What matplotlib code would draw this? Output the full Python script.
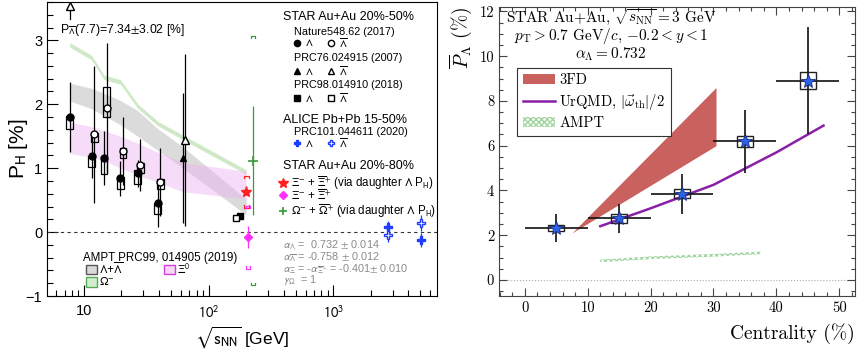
import matplotlib
matplotlib.use("Agg")
import matplotlib.pyplot as plt
import matplotlib.patches as mpatches
import matplotlib.ticker as ticker
from matplotlib.lines import Line2D
import numpy as np

plt.rcParams['font.family'] = ['Liberation Sans', 'DejaVu Sans']
plt.rcParams['mathtext.fontset'] = 'stixsans'

# ---------------- left panel data: P_H vs sqrt(s_NN) ----------------
# STAR Au+Au 20-50%, Nature548.62 (2017)
nat_e = [7.7, 11.5, 14.5, 19.6, 27., 39.]
nat_lam = [1.80, 1.19, 1.16, 0.84, 0.92, 0.45]
nat_lam_err = [0.55, 0.35, 0.42, 0.27, 0.21, 0.37]
nat_lam_sys_lo = [1.62, 1.02, 0.91, 0.67, 0.75, 0.28]
nat_lam_sys_hi = [1.82, 1.19, 1.16, 0.86, 0.97, 0.45]
nat_alam_e = [11.5, 14.5, 19.6, 27., 39.]
nat_alam = [1.53, 1.94, 1.27, 1.05, 0.78]
nat_alam_err = [1.07, 1.02, 0.53, 0.40, 0.53]
nat_alam_sys_lo = [1.41, 1.80, 1.16, 0.92, 0.67]
nat_alam_sys_hi = [1.55, 2.27, 1.31, 1.08, 0.83]
alam_77_text = r'P$_{\overline{\Lambda}}$(7.7)=7.34$\pm$3.02 [%]'

# PRC76.024915 (2007)
prc76_e = [62.4]
prc76_lam = [1.16]
prc76_lam_err = [1.02]
prc76_alam = [1.44]
prc76_alam_err = [1.35]

# PRC98.014910 (2018)
prc98_e = [200.]
prc98_lam = [0.25]
prc98_alam = [0.22]

# ALICE Pb+Pb 15-50%, PRC101.044611 (2020)
alice_e = [2760., 5020.]
alice_lam = [0.08, -0.13]
alice_lam_err = [0.10, 0.11]
alice_alam = [-0.05, 0.14]
alice_alam_err = [0.10, 0.12]

# STAR Au+Au 20-80% hyperons
xid_e, xid_val, xid_err, xid_sys = 200., 0.63, 0.05, 0.25
xi_e, xi_val, xi_err, xi_sys = 207., -0.08, 0.17, 0.49
om_e, om_val, om_err, om_sys = 227., 1.12, 0.86, 1.95

# AMPT PRC99, 014905 (2019)
ampt_e = [7.7, 11.5, 14.5, 19.6, 27., 39., 62.4, 200.]
ampt_lam_lo = [2.05, 1.93, 1.82, 1.68, 1.50, 1.28, 1.00, 0.27]
ampt_lam_hi = [2.33, 2.25, 2.17, 2.06, 1.90, 1.62, 1.33, 0.52]
ampt_xi0_lo = [1.23, 1.17, 1.12, 1.00, 0.89, 0.78, 0.63, 0.52]
ampt_xi0_hi = [1.72, 1.65, 1.59, 1.50, 1.39, 1.25, 1.09, 0.95]
ampt_om = [2.93, 2.73, 2.42, 2.35, 1.97, 1.70, 1.48, 0.94]

x_ticks = [10, 100, 1000]
x_ticklabels = ['10', '$10^{2}$', '$10^{3}$']

# ---------------- right panel data: 3 GeV vs centrality ----------------
cent = [5, 15, 25, 35, 45]
pbar = [2.32, 2.75, 3.85, 6.2, 8.9]
pbar_stat = [0.62, 0.65, 0.9, 1.4, 2.4]
pbar_sys = [0.15, 0.2, 0.2, 0.25, 0.38]
cent_halfwidth = 5

fd3_x = [7.5, 30.4]
fd3_lo = [2.1, 6.0]
fd3_hi = [2.1, 8.6]

urqmd_x = [12, 20, 30, 40, 47.5]
urqmd_y = [2.4, 3.2, 4.25, 5.7, 6.9]

amptr_x = [12, 20, 30, 37.6]
amptr_y = [0.85, 0.99, 1.1, 1.21]


fig = plt.figure(figsize=(8.57, 3.51), dpi=100)
ax1 = fig.add_axes([47/857, 55/351, 390/857, 294/351])
ax2 = fig.add_axes([499/857, 55/351, 356/857, 289/351])

# ======== left ========
ax1.set_xscale('log')
ax1.set_xlim(5.05, 6800)
ax1.set_ylim(-1, 3.6)

e = np.array(ampt_e)
ax1.fill_between(e, np.array(ampt_om) - 0.035, np.array(ampt_om) + 0.035,
                 color='#cfe9c8', lw=0, zorder=1)
ax1.fill_between(e, ampt_lam_lo, ampt_lam_hi, color='#c4c4c4', alpha=0.6, lw=0, zorder=1)
ax1.fill_between(e, ampt_xi0_lo, ampt_xi0_hi, color='#eeb2f2', alpha=0.45, lw=0, zorder=1)

ax1.axhline(0, color='#333333', ls=(0, (3, 3)), lw=0.8, zorder=2)

def sysbox(ax, x, lo, hi, f=1.065, col='black'):
    ax.add_patch(mpatches.Rectangle((x / f, lo), x * f - x / f, hi - lo, fill=False,
                                    ec=col, lw=0.9, zorder=3))

def bracket(ax, x, val, s, col, f=1.045, h=0.04):
    for yy, sg in ((val + s, -1), (val - s, 1)):
        ax.plot([x / f, x / f, x * f, x * f], [yy + sg * h, yy, yy, yy + sg * h],
                color=col, lw=0.9, zorder=4)

shift = 1.05
ne = np.array(nat_e)
ax1.errorbar(ne, nat_lam, yerr=nat_lam_err, fmt='o', color='black', ms=5, elinewidth=0.9,
             capsize=0, zorder=5)
for x, lo, hi in zip(ne, nat_lam_sys_lo, nat_lam_sys_hi):
    sysbox(ax1, x, lo, hi)
nae = np.array(nat_alam_e) * shift
ax1.errorbar(nae, nat_alam, yerr=nat_alam_err, fmt='o', mfc='white', mec='black', ecolor='black',
             ms=5, elinewidth=0.9, capsize=0, zorder=5)
for x, lo, hi in zip(nae, nat_alam_sys_lo, nat_alam_sys_hi):
    sysbox(ax1, x, lo, hi)

# off-scale anti-Lambda at 7.7 GeV
ax1.plot([7.7, 7.7], [3.33, 3.49], color='black', lw=0.9, zorder=5)
ax1.plot([7.7], [3.53], marker='^', mfc='white', mec='black', ms=6, zorder=5)
ax1.text(0.033, 0.906, alam_77_text, transform=ax1.transAxes, fontsize=8.8, va='center')

ax1.errorbar(prc76_e, prc76_lam, yerr=prc76_lam_err, fmt='^', color='black', ms=5,
             elinewidth=0.9, zorder=5)
ax1.errorbar(np.array(prc76_e) * 1.03, prc76_alam, yerr=prc76_alam_err, fmt='^', mfc='white',
             mec='black', ecolor='black', ms=6, elinewidth=0.9, zorder=5)

ax1.plot(np.array(prc98_e) * 0.9, prc98_lam, 's', color='black', ms=5, zorder=5)
ax1.plot(np.array(prc98_e) * 0.83, prc98_alam, 's', mfc='white', mec='black', ms=5, zorder=5)

blue = '#1f3cff'
ax1.errorbar(alice_e, alice_lam, yerr=alice_lam_err, fmt='P', color=blue, ms=6,
             elinewidth=0.9, zorder=5)
ax1.errorbar(alice_e, alice_alam, yerr=alice_alam_err, fmt='P', mfc='white', mec=blue,
             ecolor=blue, ms=6, elinewidth=0.9, zorder=5)

red, mag, grn = '#ff2020', '#ff30ff', '#3a9a3a'
ax1.errorbar([xid_e], [xid_val], yerr=[xid_err], fmt='*', color=red, ms=8, elinewidth=0.9, zorder=6)
bracket(ax1, xid_e, xid_val, xid_sys, red)
ax1.errorbar([xi_e], [xi_val], yerr=[xi_err], fmt='D', color=mag, ms=4.5, elinewidth=0.9, zorder=6)
bracket(ax1, xi_e, xi_val, xi_sys, mag)
ax1.errorbar([om_e], [om_val], yerr=[om_err], fmt='+', color=grn, ms=7, mew=1.2,
             elinewidth=0.9, zorder=6)
bracket(ax1, om_e, om_val, om_sys, grn)

ax1.set_xticks(x_ticks)
ax1.set_xticklabels(x_ticklabels)
ax1.xaxis.set_minor_formatter(ticker.NullFormatter())
ax1.yaxis.set_major_locator(ticker.MultipleLocator(1))
ax1.yaxis.set_minor_locator(ticker.MultipleLocator(0.2))
ax1.tick_params(which='both', direction='in', top=False, right=False, labelsize=10.5)
ax1.tick_params(which='major', length=8, width=0.8)
ax1.tick_params(which='minor', length=4, width=0.8)
ax1.tick_params(axis='x', pad=6)
for sp in ax1.spines.values():
    sp.set_linewidth(0.8)
ax1.set_ylabel(r'P$_{\rm H}$ [%]', fontsize=15, va='center')
ax1.yaxis.set_label_coords(-0.074, 0.5)
ax1.set_xlabel(r'$\sqrt{\rm s_{NN}}$ [GeV]', fontsize=12.5, labelpad=2)

T = ax1.transAxes
def ltxt(x, y, s, fs=7.5, col='black'):
    ax1.text(x, y, s, transform=T, fontsize=fs, va='center', color=col, clip_on=True)

ltxt(0.605, 0.949, 'STAR Au+Au 20%-50%', 9)
ltxt(0.633, 0.898, 'Nature548.62 (2017)', 7.8)
ltxt(0.633, 0.810, 'PRC76.024915 (2007)', 7.8)
ltxt(0.633, 0.718, 'PRC98.014910 (2018)', 7.8)
ltxt(0.605, 0.599, 'ALICE Pb+Pb 15-50%', 9)
ltxt(0.633, 0.558, 'PRC101.044611 (2020)', 7.8)
ltxt(0.605, 0.442, 'STAR Au+Au 20%-80%', 9)
rows = [(0.861, 'o'), (0.765, '^'), (0.673, 's'), (0.520, 'P')]
for yy, mk in rows:
    c = blue if mk == 'P' else 'black'
    ax1.plot([0.641], [yy], marker=mk, color=c, ms=4.5, transform=T)
    ax1.plot([0.728], [yy], marker=mk, mfc='white', mec=c, ms=4.5, transform=T)
    ltxt(0.662, yy, r'$\Lambda$')
    ltxt(0.750, yy, r'$\overline{\Lambda}$')
ax1.plot([0.605], [0.384], marker='*', color=red, ms=7, transform=T)
ltxt(0.625, 0.384, r'$\Xi^{-}$ + $\overline{\Xi}^{+}$ (via daughter $\Lambda$ P$_{\rm H}$)', 8.3)
ax1.plot([0.605], [0.344], marker='D', color=mag, ms=4, transform=T)
ltxt(0.625, 0.340, r'$\Xi^{-}$ + $\overline{\Xi}^{+}$', 8.3)
ax1.plot([0.605], [0.289], marker='+', color=grn, ms=6, mew=1.2, transform=T)
ltxt(0.625, 0.289, r'$\Omega^{-}$ + $\overline{\Omega}^{+}$ (via daughter $\Lambda$ P$_{\rm H}$)', 8.3)

gry = '#8a8a8a'
ltxt(0.605, 0.173, r'$\alpha_{\Lambda}$ =  0.732 $\pm$ 0.014', 7.8, gry)
ltxt(0.605, 0.133, r'$\alpha_{\overline{\Lambda}}$ = -0.758 $\pm$ 0.012', 7.8, gry)
ltxt(0.605, 0.092, r'$\alpha_{\Xi}$ = -$\alpha_{\overline{\Xi}^{+}}$ = -0.401$\pm$ 0.010', 7.8, gry)
ltxt(0.605, 0.055, r'$\gamma_{\Omega}$  = 1', 7.8, gry)

ltxt(0.092, 0.128, 'AMPT PRC99, 014905 (2019)', 8.3)
for (bx, by, fc, ec, lab) in [(0.100, 0.090, '#d9d9d9', '#555555', r'$\Lambda$+$\overline{\Lambda}$'),
                              (0.300, 0.090, '#f8d6fa', '#d040d8', r'$\Xi^{0}$'),
                              (0.100, 0.047, '#d4ecd0', '#55aa55', r'$\Omega^{-}$')]:
    ax1.add_patch(mpatches.Rectangle((bx, by - 0.016), 0.028, 0.032, transform=T,
                                     fc=fc, ec=ec, lw=1.0))
    ltxt(bx + 0.034, by, lab, 8.3)

# ======== right ========
cmf = 'cmr10'
ax2.set_xlim(-4.1, 52.5)
ax2.set_ylim(-0.72, 12.2)
ax2.axhline(0, color='#aaaaaa', ls=':', lw=0.8, zorder=1)

ax2.fill_between(fd3_x, fd3_lo, fd3_hi, color='#c9625e', lw=0, zorder=2)
ax2.plot(urqmd_x, urqmd_y, color='#8a1fa8', lw=1.8, zorder=3)
ay = np.array(amptr_y)
ax2.fill_between(amptr_x, ay - 0.06, ay + 0.06, facecolor='none', edgecolor='#9fd49f',
                 hatch='xxxxxx', lw=0, zorder=2)

ax2.errorbar(cent, pbar, xerr=cent_halfwidth, yerr=pbar_stat, fmt='none', ecolor='#111111',
             elinewidth=1.2, zorder=4)
for c, p, s in zip(cent, pbar, pbar_sys):
    ax2.add_patch(mpatches.Rectangle((c - 1.3, p - s), 2.6, 2 * s, fill=False, ec='#222222',
                                     lw=1.0, zorder=5))
ax2.plot(cent, pbar, '*', ms=10, mfc='#2b63e8', mec='#1a2a80', mew=0.6, ls='none', zorder=6)

ax2.xaxis.set_major_locator(ticker.MultipleLocator(10))
ax2.xaxis.set_minor_locator(ticker.MultipleLocator(2))
ax2.yaxis.set_major_locator(ticker.MultipleLocator(2))
ax2.yaxis.set_minor_locator(ticker.MultipleLocator(0.5))
ax2.tick_params(which='both', direction='in', top=True, right=True, labelsize=10.5,
                labelfontfamily=cmf, color='#444444')
ax2.tick_params(which='major', length=6, width=0.8)
ax2.tick_params(which='minor', length=3, width=0.8)
for sp in ax2.spines.values():
    sp.set_color('#444444')
    sp.set_linewidth(0.8)
ax2.set_ylabel(r'$\overline{P}_{\Lambda}$ (%)', fontsize=14, family=cmf, math_fontfamily='cm',
               loc='top', labelpad=4)
ax2.set_xlabel('Centrality (%)', fontsize=14, family=cmf, loc='right', labelpad=6)

for yy, s in [(0.965, r'STAR Au+Au, $\sqrt{s_{\rm NN}}=3$ GeV'),
              (0.898, r'$p_{\rm T}>0.7$ GeV$/c$, $-0.2<y<1$'),
              (0.838, r'$\alpha_{\Lambda}=0.732$')]:
    ax2.text(0.315, yy, s, transform=ax2.transAxes, fontsize=11, family=cmf,
             math_fontfamily='cm', ha='center', va='center')

handles = [mpatches.Patch(fc='#c9625e', ec='none'),
           Line2D([0], [0], color='#8a1fa8', lw=1.8),
           mpatches.Patch(fc='white', ec='#9fd49f', hatch='xxxxxx', lw=0)]
labels = ['3FD', r'UrQMD, $|\vec{\omega}_{\rm th}|/2$', 'AMPT']
leg = ax2.legend(handles, labels, loc='upper left', bbox_to_anchor=(0.05, 0.79),
                 borderaxespad=0, fancybox=False, edgecolor='#333333', framealpha=1,
                 prop={'family': cmf, 'size': 10.5, 'math_fontfamily': 'cm'},
                 handlelength=2.2, handletextpad=0.3, labelspacing=0.3, borderpad=0.4)
leg.get_frame().set_linewidth(0.8)

fig.savefig('out.png', dpi=100)
